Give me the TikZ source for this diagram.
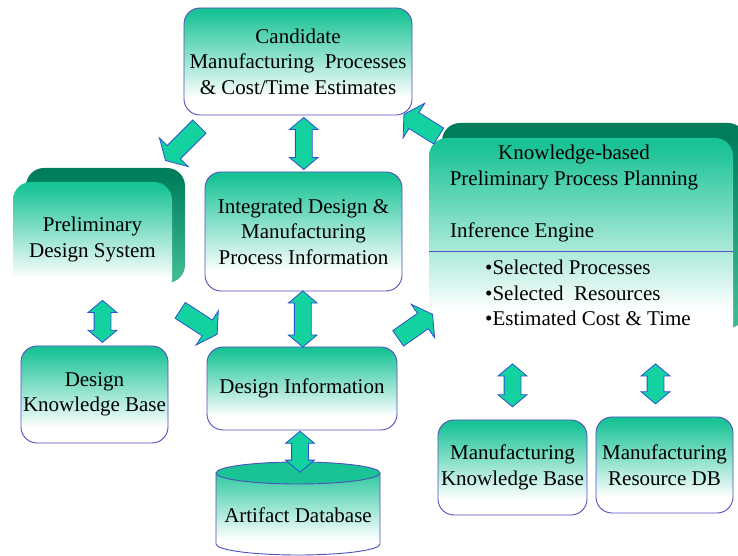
\documentclass[tikz,border=0pt]{standalone}
\usepackage{fontspec}
\setmainfont{Liberation Serif}
\usepackage{tikz}
\usetikzlibrary{calc}
\usetikzlibrary{shapes.arrows}

\definecolor{boxteal}{RGB}{25,195,150}
\definecolor{boxline}{RGB}{80,80,190}
\definecolor{arrowteal}{RGB}{20,210,160}
\definecolor{arrowline}{RGB}{40,80,210}
\definecolor{sidedark}{RGB}{0,125,90}
\definecolor{sidelight}{RGB}{60,185,145}

\pgfdeclareverticalshading{tealfade}{100bp}{color(0bp)=(white); color(33bp)=(white); color(73bp)=(boxteal); color(100bp)=(boxteal)}
\pgfdeclareverticalshading{sidefade}{100bp}{color(0bp)=(sidelight); color(30bp)=(sidelight); color(72bp)=(sidedark); color(100bp)=(sidedark)}

\newcommand{\boxfont}{\fontsize{21}{25.5}\selectfont}

\tikzset{
  box/.style={draw=boxline, line width=0.9pt, rounded corners=16pt, shading=tealfade, align=center, font=\boxfont, inner sep=0pt},
  front/.style={rounded corners=18pt, shading=tealfade, align=center, font=\boxfont, inner sep=0pt},
  back/.style={rounded corners=18pt, shading=sidefade, inner sep=0pt},
  txt/.style={font=\boxfont, inner sep=0pt},
  dblarrow/.style={double arrow, draw=arrowline, fill=arrowteal, line width=0.8pt, inner xsep=0pt, inner ysep=8pt, double arrow head extend=6, double arrow tip angle=100, rotate=90},
  fatarrow/.style={single arrow, draw=arrowline, fill=arrowteal, line width=0.8pt, inner xsep=0pt, inner ysep=9pt, single arrow head extend=11, single arrow tip angle=120},
}

\begin{document}
\begin{tikzpicture}[x=1pt, y=1pt]

  \useasboundingbox (0,0) rectangle (738,556);

  % Plain boxes
  \node[box, minimum width=228, minimum height=107] (cand) at (298,494.5)
    {Candidate\\Manufacturing~ Processes\\\& Cost/Time Estimates};
  \node[box, minimum width=197, minimum height=119] (integ) at (303.5,324.5)
    {Integrated Design \&\\Manufacturing\\Process Information};
  \node[box, minimum width=190, minimum height=83] (dinfo) at (302,167.5)
    {Design Information};
  \node[box, minimum width=147, minimum height=97] (dkb) at (94.5,161.5)
    {Design\\Knowledge Base};
  \node[box, minimum width=149, minimum height=95] (mkb) at (512.5,88.5)
    {Manufacturing\\Knowledge Base};
  \node[box, minimum width=137, minimum height=96] (mrdb) at (664.5,91)
    {Manufacturing\\Resource DB};

  % Raised boxes: back face first, then front face
  \node[back, minimum width=159, minimum height=115] (prelimback) at (105.5,330.5) {};
  \node[front, minimum width=159, minimum height=115] (prelim) at (92.5,316.5)
    {Preliminary\\Design System};

  \node[back, minimum width=304, minimum height=205] (kbppback) at (594,330.5) {};
  \node[front, minimum width=304, minimum height=205] (kbpp) at (581,315.5) {};
  \node[txt, align=center] (kbpptitle) at (574,388.5)
    {Knowledge-based\\Preliminary Process Planning};
  \node[txt, anchor=west] (infer) at (450,324) {Inference Engine};
  \draw[boxline, line width=0.9pt] ([yshift=-10.5pt]kbpp.west) -- ([yshift=-10.5pt]kbpp.east);
  \node[txt, align=left, anchor=west] (outputs) at (485,263)
    {\textbullet Selected Processes\\\textbullet Selected~ Resources\\\textbullet Estimated Cost \& Time};

  % Artifact database cylinder
  \coordinate (dbtop) at (298,83);
  \path[shading=tealfade] (216,83) -- (216,12)
    arc[start angle=180, end angle=360, x radius=82, y radius=11] -- (380,83)
    arc[start angle=0, end angle=180, x radius=82, y radius=11] -- cycle;
  \draw[boxline, line width=0.9pt] (216,83) -- (216,12)
    arc[start angle=180, end angle=360, x radius=82, y radius=11] -- (380,83);
  \draw[boxline, line width=0.9pt, fill=boxteal] (dbtop) ellipse [x radius=82, y radius=11];
  \node[txt] (artifact) at (298,41) {Artifact Database};

  % Two-way links
  \node[dblarrow, minimum height=52] (d1) at ($(cand.south)!0.5!(integ.north)+(3,0)$) {};
  \node[dblarrow, minimum height=56] (d2) at ($(integ.south)!0.5!(dinfo.north)$) {};
  \node[dblarrow, minimum height=41] (d3) at ($(dinfo.south)!0.5!(dbtop)$) {};
  \node[dblarrow, minimum height=42] (d4) at ($(prelim.south)!0.5!(dkb.north)+(9,0)$) {};
  \node[dblarrow, minimum height=43] (d5) at ($(mkb.north)!0.5!(mkb.north |- kbpp.south)+(0,-4)$) {};
  \node[dblarrow, minimum height=40] (d6) at ($(mrdb.north)!0.5!(mrdb.north |- kbpp.south)+(-9,-4)$) {};

  % One-way flow
  \node[fatarrow, minimum height=48, rotate=225] (a1) at ($(cand.south west)!0.5!(prelimback.north east)$) {};
  \node[fatarrow, minimum height=41, rotate=148] (a2) at ($(cand.south east)!0.5!(kbpp.north west)+(3,0)$) {};
  \node[fatarrow, minimum height=44, rotate=-33] (a3) at ($(prelim.south east)!0.5!(dinfo.north west)+(7,1)$) {};
  \node[fatarrow, minimum height=42, rotate=35] (a4) at ($(dinfo.north east)!0.5!(kbpp.south west)+(0,17)$) {};

\end{tikzpicture}
\end{document}
